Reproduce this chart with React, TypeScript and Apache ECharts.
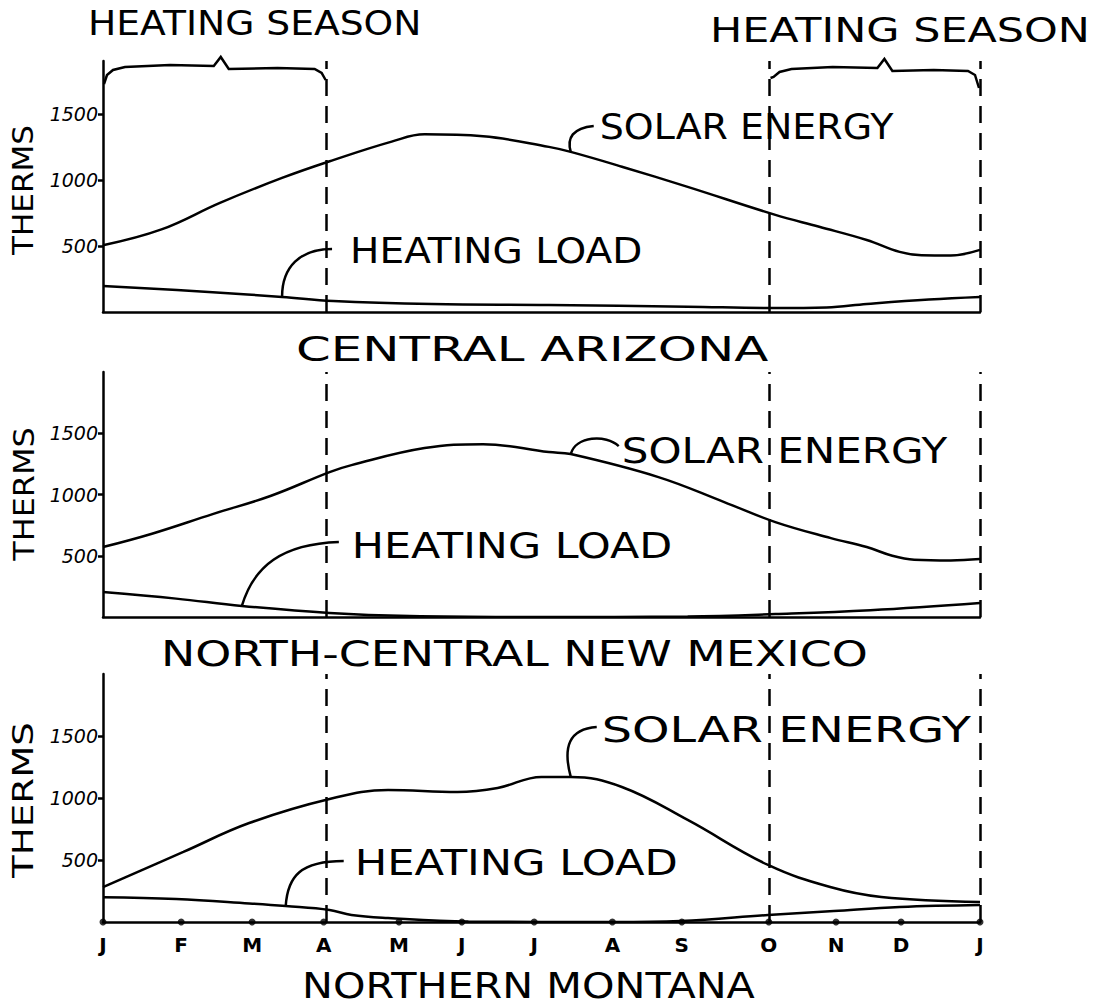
import React, { useEffect, useRef } from 'react';
import * as echarts from 'echarts';

// ---------------- DATA ----------------
const monthLabels = ['J', 'F', 'M', 'A', 'M', 'J', 'J', 'A', 'S', 'O', 'N', 'D', 'J'];
// hand-drawn month tick positions (in months from January)
const monthTickPositions = [0, 1.07, 2.04, 3.02, 4.05, 4.91, 5.9, 6.97, 7.92, 9.11, 10.03, 10.92, 12];
const seasonLines = [3.06, 9.12, 12]; // April, October, year end (as drawn)
const yTickValues = [500, 1000, 1500];
const panelTitles = ['CENTRAL ARIZONA', 'NORTH-CENTRAL NEW MEXICO', 'NORTHERN MONTANA'];
const yMax = [1900, 2000, 2000];

// [month position, therms]
const solarArizona = [
  [0, 505], [0.8, 625], [1.6, 826], [2.45, 1015], [3.15, 1150], [3.95, 1290], [4.4, 1345],
  [5.2, 1330], [6.1, 1250], [6.4, 1212], [7.1, 1100], [8.0, 947], [9.2, 735], [9.8, 645],
  [10.45, 545], [10.9, 455], [11.2, 430], [11.6, 428], [12, 470],
];
const heatArizona = [
  [0, 197], [1.5, 150], [2.45, 114], [3.15, 83], [4.5, 60], [6.1, 53], [8, 40], [9.2, 30],
  [9.9, 35], [10.45, 61], [11.3, 95], [12, 114],
];
const solarNewMexico = [
  [0, 571], [0.67, 680], [1.5, 840], [2.3, 990], [3.1, 1183], [3.4, 1240], [4.4, 1379],
  [5.2, 1411], [6.1, 1346], [6.4, 1330], [7.6, 1142], [8.5, 938], [9.2, 775], [9.96, 644],
  [10.45, 571], [10.8, 500], [11.1, 468], [11.6, 462], [12, 473],
];
const heatNewMexico = [
  [0, 204], [1.0, 150], [1.9, 90], [3.1, 33], [4.2, 8], [6, 0], [8, 5], [9.2, 24],
  [10.5, 55], [12, 114],
];
const solarMontana = [
  [0, 282], [1.1, 565], [2.0, 798], [3.1, 992], [3.9, 1065], [4.85, 1048], [5.4, 1081],
  [6.0, 1170], [6.4, 1170], [7.1, 1089], [8.0, 823], [9.1, 460], [9.95, 282], [10.65, 202],
  [12, 161],
];
const heatMontana = [
  [0, 199], [1.0, 185], [2.0, 150], [2.5, 129], [3.1, 97], [3.4, 56], [3.9, 32], [5, 5],
  [7, 0], [7.9, 8], [9.1, 56], [10, 89], [10.9, 121], [12, 137],
];
const solarSeries = [solarArizona, solarNewMexico, solarMontana];
const heatSeries = [heatArizona, heatNewMexico, heatMontana];
const solarAnchorMonth = [6.4, 6.4, 6.4];
const heatAnchorMonth = [2.45, 1.9, 2.5];

// ---------------- LAYOUT ----------------
const LEFT = 103;
const WIDTH = 877;
const GRID_TOPS = [61, 372, 674];
const GRID_HEIGHTS = [251, 245, 248];
const FONT = '"DejaVu Sans", sans-serif';
const INK = '#000';

type Leader = { cp1: number[]; cp2: number[]; end: number[]; tx: number; ty: number; sx: number };
const solarLeaders: Leader[] = [
  { cp1: [-4, -14], cp2: [2, -24], end: [23, -26], tx: 29, ty: -25, sx: 1.054 },
  { cp1: [5, -18], cp2: [35, -20], end: [48, -8], tx: 51, ty: -3, sx: 1.168 },
  { cp1: [-8, -30], cp2: [-2, -48], end: [26, -50], tx: 31, ty: -47, sx: 1.325 },
];
const heatLeaders: Leader[] = [
  { cp1: [0, -30], cp2: [18, -48], end: [50, -48], tx: 68, ty: -46, sx: 1.086 },
  { cp1: [12, -40], cp2: [40, -62], end: [97, -64], tx: 110, ty: -61, sx: 1.19 },
  { cp1: [2, -30], cp2: [15, -45], end: [58, -45], tx: 69, ty: -44, sx: 1.2 },
];
const titleLayout = [
  { x: 296, y: 350, fs: 33, sx: 1.51 },
  { x: 161, y: 654, fs: 36, sx: 1.273 },
  { x: 302, y: 985, fs: 36, sx: 1.148 },
];
const thermsLayout = [
  { x: 24, y: 190, sx: 1.11 },
  { x: 24, y: 494, sx: 1.14 },
  { x: 23, y: 800, sx: 1.33 },
];

export default function App() {
  const ref = useRef<HTMLDivElement>(null);

  useEffect(() => {
    document.body.style.margin = '0';
    if (!ref.current) return;
    const chart = echarts.init(ref.current, null, { renderer: 'svg' });

    const grid = GRID_TOPS.map((top, i) => ({ left: LEFT, width: WIDTH, top, height: GRID_HEIGHTS[i] }));
    const monthLabelFor = (v: number) => {
      let best = 0;
      monthTickPositions.forEach((p, k) => {
        if (Math.abs(p - v) < Math.abs(monthTickPositions[best] - v)) best = k;
      });
      return monthLabels[best];
    };
    const xAxis = grid.map((_, i) => ({
      type: 'value',
      gridIndex: i,
      min: 0,
      max: 12,
      axisLine: { show: true, onZero: false, lineStyle: { color: INK, width: 2.5 } },
      axisTick: { show: false },
      splitLine: { show: false },
      axisLabel: {
        show: i === 2,
        customValues: monthTickPositions,
        formatter: (v: number) => monthLabelFor(v),
        color: INK,
        fontSize: 20,
        fontWeight: 'bold',
        fontFamily: FONT,
        margin: 13,
      },
    }));
    const yAxis = grid.map((_, i) => ({
      type: 'value',
      gridIndex: i,
      min: 0,
      max: yMax[i],
      axisLine: { show: true, onZero: false, lineStyle: { color: INK, width: 2.5 } },
      axisTick: { show: true, customValues: yTickValues, length: 5, lineStyle: { color: INK, width: 2.5 } },
      axisLabel: {
        customValues: yTickValues,
        formatter: (v: number) => String(v),
        color: INK,
        fontSize: 19,
        fontStyle: 'italic',
        fontFamily: FONT,
        margin: 5,
      },
      splitLine: { show: false },
    }));

    const series: any[] = [];
    for (let i = 0; i < 3; i++) {
      series.push({
        type: 'line',
        name: 'Solar energy',
        xAxisIndex: i,
        yAxisIndex: i,
        data: solarSeries[i],
        smooth: 0.4,
        symbol: 'none',
        lineStyle: { color: INK, width: 2.5 },
        markLine: {
          silent: true,
          symbol: ['none', 'none'],
          label: { show: false },
          lineStyle: { color: INK, width: 2.5, type: [17, 10] },
          data: seasonLines.map((m) => ({ xAxis: m })),
        },
      });
      series.push({
        type: 'line',
        name: 'Heating load',
        xAxisIndex: i,
        yAxisIndex: i,
        data: heatSeries[i],
        smooth: 0.4,
        symbol: 'none',
        lineStyle: { color: INK, width: 2.5 },
      });
    }
    series.push({
      type: 'scatter',
      xAxisIndex: 2,
      yAxisIndex: 2,
      data: monthTickPositions.map((m) => [m, 0]),
      symbolSize: 7,
      itemStyle: { color: INK },
      clip: false,
      silent: true,
    });

    chart.setOption({
      animation: false,
      backgroundColor: '#fff',
      grid,
      xAxis,
      yAxis,
      series,
    });

    const px = (i: number, pt: number[]) => chart.convertToPixel({ gridIndex: i } as any, pt) as number[];
    const text = (t: string, x: number, y: number, fs: number, sx: number, extra: any = {}) => ({
      type: 'text',
      x,
      y,
      scaleX: sx,
      silent: true,
      ...extra,
      style: {
        text: t,
        fill: INK,
        fontSize: fs,
        fontFamily: FONT,
        textAlign: extra.align || 'left',
        textVerticalAlign: 'middle',
      },
    });
    const stroke = { stroke: INK, lineWidth: 2.5, fill: null };

    const elements: any[] = [];
    const brace = (x0: number, x1: number, yb: number, peakFrac: number, dropL: number, dropR: number) => {
      const w = x1 - x0;
      const xp = x0 + w * peakFrac;
      return {
        type: 'polyline',
        silent: true,
        shape: {
          points: [
            [x0 + 1, yb + dropL], [x0 + 4, yb + 10], [x0 + 10, yb + 5], [x0 + 22, yb + 2],
            [x0 + 0.3 * w, yb], [xp - 10, yb + 1], [xp - 3, yb - 8], [xp + 5, yb + 4],
            [x0 + 0.78 * w, yb + 3], [x1 - 12, yb + 4], [x1 - 5, yb + 8], [x1 - 1, yb + dropR],
          ],
        },
        style: stroke,
      };
    };
    const a0 = px(0, [0, 0])[0];
    const aA = px(0, [seasonLines[0], 0])[0];
    const aO = px(0, [seasonLines[1], 0])[0];
    const aE = px(0, [seasonLines[2], 0])[0];
    elements.push(brace(a0, aA, 65, 0.54, 19, 15));
    elements.push(brace(aO, aE, 67, 0.56, 11, 21));
    elements.push(text('HEATING SEASON', 88, 23, 34, 1.107));
    elements.push(text('HEATING SEASON', 710, 30, 33, 1.3));

    for (let i = 0; i < 3; i++) {
      const tl = titleLayout[i];
      elements.push(text(panelTitles[i], tl.x, tl.y, tl.fs, tl.sx));
      const th = thermsLayout[i];
      elements.push(text('THERMS', th.x, th.y, 28, th.sx, { rotation: Math.PI / 2, align: 'center' }));

      const addLeader = (label: string, data: number[][], month: number, L: Leader) => {
        const pt = data.find((d) => d[0] === month) as number[];
        const [ax, ay] = px(i, pt);
        elements.push({
          type: 'bezierCurve',
          silent: true,
          shape: {
            x1: ax, y1: ay,
            cpx1: ax + L.cp1[0], cpy1: ay + L.cp1[1],
            cpx2: ax + L.cp2[0], cpy2: ay + L.cp2[1],
            x2: ax + L.end[0], y2: ay + L.end[1],
          },
          style: stroke,
        });
        elements.push(text(label, ax + L.tx, ay + L.ty, 36, L.sx));
      };
      addLeader('SOLAR ENERGY', solarSeries[i], solarAnchorMonth[i], solarLeaders[i]);
      addLeader('HEATING LOAD', heatSeries[i], heatAnchorMonth[i], heatLeaders[i]);
    }

    chart.setOption({ graphic: { elements } });

    return () => chart.dispose();
  }, []);

  return <div ref={ref} style={{ width: 1096, height: 1006 }} />;
}
